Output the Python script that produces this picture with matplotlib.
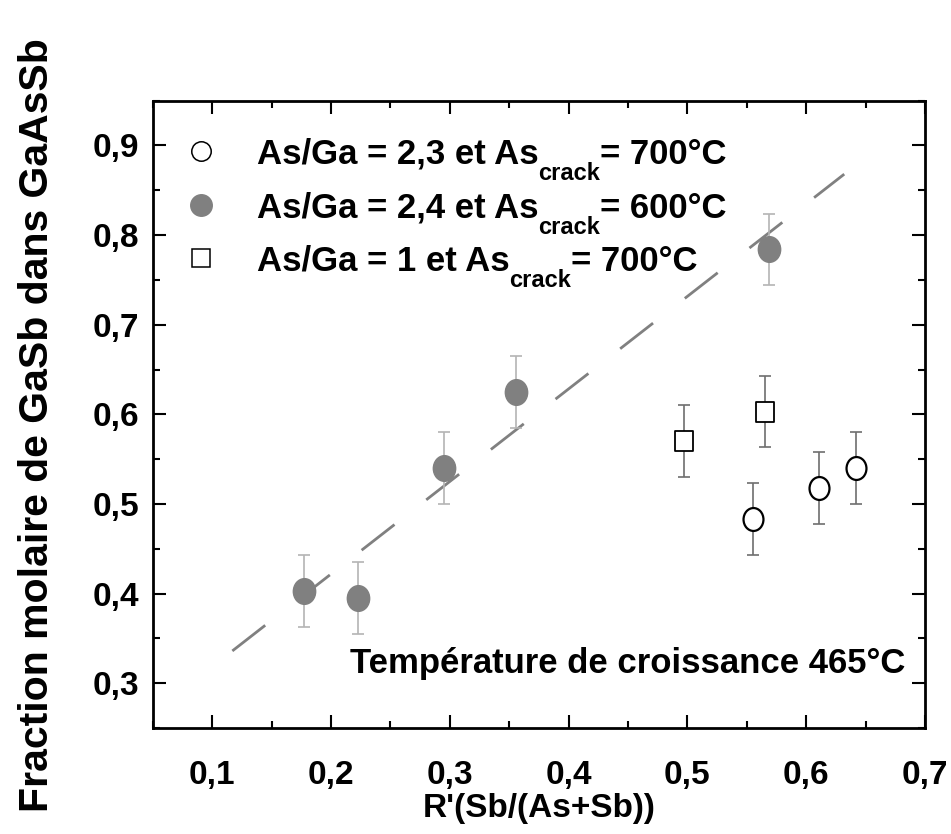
import matplotlib
matplotlib.use('Agg')
from matplotlib import pyplot as plt
from matplotlib.path import Path
from matplotlib.transforms import Affine2D, ScaledTranslation
from matplotlib.ticker import MultipleLocator, FuncFormatter

# data
gray_x = [0.177, 0.223, 0.295, 0.356, 0.569]
gray_y = [0.403, 0.395, 0.540, 0.625, 0.784]
gray_err = [0.04, 0.04, 0.04, 0.04, 0.04]

circ_x = [0.555, 0.611, 0.642]
circ_y = [0.483, 0.518, 0.540]
circ_err = [0.04, 0.04, 0.04]

sq_x = [0.497, 0.565]
sq_y = [0.570, 0.603]
sq_err = [0.04, 0.04]

fit_x = [0.117, 0.632]
fit_y = [0.336, 0.868]

leg_head = ['As/Ga = 2,3 et As', 'As/Ga = 2,4 et As', 'As/Ga = 1 et As']
leg_sub = ['crack', 'crack', 'crack']
leg_tail = ['= 700°C', '= 600°C', '= 700°C']

GRAY = '#808080'
plt.rcParams['font.family'] = ['Liberation Sans', 'DejaVu Sans']
plt.rcParams['font.weight'] = 'bold'
plt.rcParams['lines.scale_dashes'] = False

# markers in the figure are a little taller than wide
ell = Path.unit_circle().transformed(Affine2D().scale(1, 1.15))
box = Path.unit_rectangle().transformed(Affine2D().translate(-0.5, -0.5).scale(1, 1.15))

fig = plt.figure(figsize=(9.51, 8.34), dpi=100)
ax = fig.add_axes([0.1606, 0.1271, 0.8121, 0.7522])

ax.plot(fit_x, fit_y, color=GRAY, lw=2, linestyle=(0, (30, 29)), zorder=2)

ax.errorbar(gray_x, gray_y, yerr=gray_err, fmt='none', ecolor='#b4b4b4',
            elinewidth=1.2, capsize=4.5, capthick=1.2, zorder=3)
ax.errorbar(circ_x, circ_y, yerr=circ_err, fmt='none', ecolor='#6e6e6e',
            elinewidth=1.2, capsize=4.5, capthick=1.2, zorder=3)
ax.errorbar(sq_x, sq_y, yerr=sq_err, fmt='none', ecolor='#6e6e6e',
            elinewidth=1.2, capsize=4.5, capthick=1.2, zorder=3)

ax.plot(gray_x, gray_y, linestyle='none', marker=ell, markersize=18.5,
        markerfacecolor=GRAY, markeredgecolor=GRAY, zorder=4)
ax.plot(circ_x, circ_y, linestyle='none', marker=ell, markersize=16.5,
        markerfacecolor='white', markeredgecolor='black', markeredgewidth=1.6, zorder=4)
ax.plot(sq_x, sq_y, linestyle='none', marker=box, markersize=15,
        markerfacecolor='white', markeredgecolor='black', markeredgewidth=1.3, zorder=4)

# legend drawn by hand
leg_y = [0.9198, 0.8337, 0.7492]
ax.plot([0.0622], [leg_y[0]], 'o', transform=ax.transAxes, markersize=14,
        markerfacecolor='white', markeredgecolor='black', markeredgewidth=1.1, clip_on=False)
ax.plot([0.0622], [leg_y[1]], 'o', transform=ax.transAxes, markersize=15.5,
        markerfacecolor=GRAY, markeredgecolor=GRAY, clip_on=False)
ax.plot([0.0622], [leg_y[2]], 's', transform=ax.transAxes, markersize=12.5,
        markerfacecolor='white', markeredgecolor='black', markeredgewidth=1.1, clip_on=False)

renderer = fig.canvas.get_renderer()
for yy, head, sub, tail in zip(leg_y, leg_head, leg_sub, leg_tail):
    t1 = ax.text(0.135, yy - 0.02, head, transform=ax.transAxes, fontsize=25,
                 fontweight='bold', ha='left', va='baseline')
    w1 = t1.get_window_extent(renderer).width
    off = ScaledTranslation(w1 / fig.dpi, -16 / fig.dpi, fig.dpi_scale_trans)
    t2 = ax.text(0.135, yy - 0.02, sub, transform=ax.transAxes + off, fontsize=17,
                 fontweight='bold', ha='left', va='baseline')
    w2 = t2.get_window_extent(renderer).width
    off2 = ScaledTranslation((w1 + w2) / fig.dpi, 0, fig.dpi_scale_trans)
    ax.text(0.135, yy - 0.02, tail, transform=ax.transAxes + off2, fontsize=25,
            fontweight='bold', ha='left', va='baseline')

ax.text(0.974, 0.088, 'Température de croissance 465°C', transform=ax.transAxes,
        fontsize=25, fontweight='bold', ha='right', va='baseline')

ax.set_xlim(0.05, 0.7)
ax.set_ylim(0.25, 0.95)
ax.xaxis.set_major_locator(MultipleLocator(0.1))
ax.xaxis.set_minor_locator(MultipleLocator(0.05))
ax.yaxis.set_major_locator(MultipleLocator(0.1))
ax.yaxis.set_minor_locator(MultipleLocator(0.05))
comma = FuncFormatter(lambda v, p: ('%.1f' % v).replace('.', ','))
ax.xaxis.set_major_formatter(comma)
ax.yaxis.set_major_formatter(comma)
ax.tick_params(which='both', direction='in', top=True, right=True, width=1.5)
ax.tick_params(which='major', length=9.5, labelsize=24)
ax.tick_params(axis='x', which='major', pad=23)
ax.tick_params(axis='y', which='major', pad=10)
ax.tick_params(which='minor', length=5)
for s in ax.spines.values():
    s.set_linewidth(2)

fig.text(0.5667, 0.031, "R'(Sb/(As+Sb))", fontsize=24, fontweight='bold',
         ha='center', va='center')
fig.text(0.039, 0.49, 'Fraction molaire de GaSb dans GaAsSb', fontsize=29.5,
         fontweight='bold', ha='center', va='center', rotation=90)

plt.savefig('out.png', dpi=100)
